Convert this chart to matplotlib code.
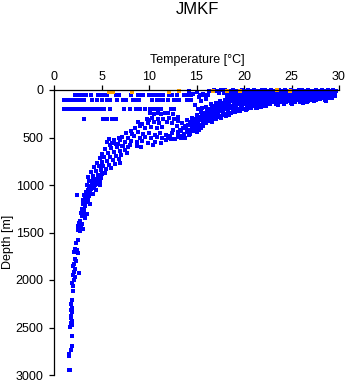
import matplotlib
matplotlib.use("Agg")
import matplotlib.pyplot as plt

plt.rcParams['font.family'] = ['Liberation Sans', 'DejaVu Sans']

title = "JMKF"
xlabel = "Temperature [°C]"
ylabel = "Depth [m]"
xticks = [0, 5, 10, 15, 20, 25, 30]
yticks = [0, 500, 1000, 1500, 2000, 2500, 3000]

# (temperature, depth) pairs
surface = [
    (16.3, 8), (16.8, 3), (17.2, 10), (17.6, 5), (18.0, 2), (18.4, 9), (18.8, 4), (19.1, 11), (19.4, 6),
    (19.8, 2), (20.1, 8), (20.4, 4), (20.7, 10), (21.0, 3), (21.3, 7), (21.6, 12), (21.9, 5), (22.2, 2),
    (22.5, 9), (22.8, 4), (23.1, 11), (23.4, 6), (23.7, 2), (24.0, 8), (24.3, 4), (24.6, 10), (24.9, 3),
    (25.2, 7), (25.5, 12), (25.8, 5), (26.1, 2), (26.4, 9), (26.7, 4), (27.0, 11), (27.3, 6), (27.6, 2),
    (27.9, 8), (28.2, 4), (28.5, 10), (28.8, 3), (29.1, 7), (29.4, 5), (29.7, 9),
    (17.4, 30), (17.9, 36), (18.3, 28), (18.7, 34), (19.0, 30), (19.3, 38), (19.7, 27), (20.0, 33),
    (20.3, 37), (20.6, 29), (20.9, 35), (21.2, 31), (21.5, 26), (21.8, 36), (22.1, 32), (22.4, 28),
    (22.7, 38), (23.0, 33), (23.3, 29), (23.6, 35), (23.9, 31), (24.2, 37), (24.5, 27), (24.8, 33),
    (25.1, 30), (25.4, 36), (25.7, 28), (26.0, 34), (26.3, 31), (26.6, 37), (26.9, 29), (27.2, 33),
    (27.5, 27), (27.8, 36), (28.1, 31), (28.4, 35), (28.7, 28), (29.0, 33), (29.3, 30), (29.6, 36),
    (18.2, 60), (18.6, 54), (19.0, 62), (19.3, 56), (19.6, 60), (19.9, 52), (20.2, 64), (20.5, 57),
    (20.8, 61), (21.1, 55), (21.4, 63), (21.7, 58), (22.0, 53), (22.3, 62), (22.6, 56), (22.9, 60),
    (23.2, 54), (23.5, 63), (23.8, 57), (24.1, 61), (24.4, 55), (24.7, 59), (25.0, 64), (25.3, 56),
    (25.6, 60), (25.9, 53), (26.2, 62), (26.5, 57), (26.8, 61), (27.1, 55), (27.4, 59), (27.7, 63),
    (28.0, 56), (28.3, 60), (28.6, 54), (28.9, 58), (29.2, 62), (29.5, 55),
    (18.9, 85), (19.3, 80), (19.7, 88), (20.0, 82), (20.3, 86), (20.6, 79), (20.9, 90), (21.2, 83),
    (21.5, 87), (21.8, 81), (22.1, 89), (22.4, 84), (22.7, 78), (23.0, 88), (23.3, 82), (23.6, 86),
    (23.9, 80), (24.2, 90), (24.5, 84), (24.8, 79), (25.1, 87), (25.4, 83), (25.7, 89), (26.0, 81),
    (26.3, 86), (26.6, 80), (26.9, 88), (27.2, 82), (27.5, 85), (27.8, 79), (28.1, 84), (28.4, 88),
    (28.7, 81), (29.0, 85),
    (19.6, 110), (20.0, 106), (20.4, 114), (20.8, 108), (21.1, 112), (21.4, 104), (21.7, 116),
    (22.0, 109), (22.3, 113), (22.6, 106), (22.9, 111), (23.2, 117), (23.5, 108), (23.8, 113),
    (24.1, 105), (24.4, 110), (24.7, 115), (25.0, 107), (25.3, 112), (25.6, 104), (25.9, 109),
    (26.3, 106), (26.7, 111), (27.1, 104), (27.6, 100), (28.0, 98), (28.5, 104),
    (20.3, 135), (20.7, 140), (21.1, 132), (21.5, 138), (21.9, 130), (22.3, 142), (22.7, 134),
    (23.1, 129), (23.5, 137), (23.9, 131), (24.4, 127), (24.9, 133), (25.4, 125), (25.9, 129),
    (26.6, 122), (27.4, 118),
    (21.0, 160), (21.5, 168), (21.9, 155), (22.3, 163), (22.7, 152), (23.4, 150), (24.2, 148),
    (25.0, 145), (21.3, 185), (21.7, 178), (22.0, 172), (23.6, 160), (26.2, 140), (28.6, 115),
    (29.3, 88), (29.6, 68),
    (14.2, 15), (14.6, 45), (15.0, 25), (15.3, 70), (15.7, 40), (16.0, 95), (14.4, 100), (15.5, 120),
    (16.2, 55), (14.8, 160), (15.2, 200), (15.6, 185),
]

thermocline = [
    (22.0, 150), (21.8, 175), (22.3, 165),
    (21.0, 120), (21.2, 145), (20.9, 170), (21.4, 190), (21.6, 160),
    (20.5, 100), (20.6, 135), (20.4, 160), (20.7, 185), (20.3, 205),
    (20.0, 70), (19.9, 120), (20.1, 145), (19.8, 170), (20.0, 195), (20.2, 215),
    (19.5, 60), (19.6, 95), (19.4, 125), (19.5, 150), (19.7, 180), (19.3, 205), (19.6, 225),
    (19.0, 75), (19.1, 105), (18.9, 135), (19.0, 160), (19.2, 185), (18.8, 210), (19.0, 235),
    (18.5, 85), (18.6, 115), (18.4, 140), (18.5, 165), (18.7, 190), (18.3, 215), (18.6, 240), (18.4, 260),
    (18.0, 100), (18.1, 125), (17.9, 150), (18.0, 175), (18.2, 200), (17.8, 225), (18.0, 250), (18.1, 270),
    (17.5, 115), (17.6, 145), (17.4, 170), (17.5, 195), (17.7, 220), (17.3, 245), (17.5, 270), (17.6, 290),
    (17.0, 135), (17.1, 165), (16.9, 190), (17.0, 215), (17.2, 240), (16.8, 265), (17.0, 290), (17.1, 310),
    (16.5, 150), (16.6, 185), (16.4, 215), (16.5, 240), (16.7, 265), (16.3, 290), (16.5, 315), (16.6, 335),
    (16.0, 175), (16.1, 215), (15.9, 245), (16.0, 270), (16.2, 300), (15.8, 325), (16.0, 350),
    (15.5, 230), (15.6, 260), (15.4, 290), (15.5, 320), (15.7, 345), (15.3, 370), (15.5, 395),
    (15.0, 265), (15.1, 300), (14.9, 330), (15.0, 360), (15.2, 385), (14.8, 415), (15.0, 440),
    (14.5, 295), (14.6, 335), (14.4, 365), (14.5, 400), (14.7, 430), (14.3, 460),
    (14.0, 320), (14.1, 365), (13.9, 405), (14.0, 440), (14.2, 470), (13.8, 500),
    (13.5, 350), (13.6, 395), (13.4, 435), (13.5, 480),
    (13.0, 285), (13.1, 330), (12.9, 380), (13.0, 440), (13.2, 490),
    (12.5, 255), (12.6, 300), (12.4, 350), (12.5, 420), (12.3, 520),
    (12.0, 240), (12.1, 290), (11.9, 340), (12.2, 480), (11.8, 530),
    # in-between observations
    (21.2, 100), (20.8, 150), (20.2, 120), (20.3, 180), (19.8, 80), (19.7, 140), (19.2, 95),
    (19.3, 150), (19.2, 225), (18.7, 120), (18.8, 175), (18.3, 100), (18.2, 160), (18.3, 240),
    (17.8, 135), (17.7, 185), (17.8, 260), (17.2, 150), (17.3, 205), (17.2, 280), (16.7, 170),
    (16.8, 225), (16.7, 300), (16.2, 195), (16.3, 255), (16.3, 325), (15.7, 245), (15.8, 285),
    (15.7, 380), (15.3, 280), (15.2, 340), (15.3, 420), (14.8, 310), (14.8, 375), (14.3, 340),
    (14.3, 420), (13.8, 380), (13.3, 420), (13.7, 460),
]

mid = [
    (10.1, 240), (10.5, 250), (10.9, 245), (11.3, 255), (11.7, 245), (10.3, 290), (10.9, 300),
    (11.5, 310), (10.0, 320), (9.8, 300),
    (8.8, 340), (9.3, 355), (9.9, 345), (10.5, 335), (11.1, 350), (8.1, 430), (8.5, 395), (9.0, 380),
    (9.6, 395), (10.2, 385), (10.8, 400), (11.4, 390),
    (7.6, 455), (8.2, 465), (8.8, 445), (9.4, 460), (10.0, 450), (10.6, 470), (11.2, 455), (11.8, 470),
    (12.4, 455), (13.0, 470),
    (7.2, 490), (7.8, 500), (8.4, 485), (9.0, 500), (9.6, 490), (10.2, 505), (10.8, 495), (11.4, 510),
    (12.0, 500), (12.7, 515), (13.4, 505),
    (6.9, 530), (7.5, 545), (8.1, 535), (8.7, 550), (9.3, 540), (9.9, 555), (10.6, 545), (11.3, 560),
    (6.7, 570), (7.3, 585), (8.0, 575), (8.7, 590), (9.2, 600), (10.4, 580),
    (5.8, 515), (6.3, 525), (6.8, 505), (5.6, 545), (6.1, 555), (5.9, 580), (6.5, 565),
]

intermediate = [
    (7.8, 600), (7.2, 590), (6.6, 605), (6.0, 615), (5.4, 625), (7.5, 630), (6.9, 640), (6.3, 650),
    (5.7, 660), (5.1, 670), (7.7, 665), (7.1, 680), (6.5, 690), (5.9, 700), (5.3, 710), (4.8, 720),
    (6.8, 725), (6.2, 735), (5.6, 745), (5.0, 755), (4.5, 765), (6.9, 770), (6.4, 780), (5.8, 790),
    (5.2, 800), (4.7, 805), (4.2, 815), (6.0, 825), (5.5, 835), (4.9, 845), (4.4, 855), (3.9, 865),
    (5.4, 875), (5.0, 885), (4.6, 895), (4.1, 905), (3.6, 915), (4.9, 925), (4.5, 935), (4.1, 945),
    (3.7, 955), (4.8, 965), (4.4, 975), (4.0, 985), (3.5, 995),
]

lower = [
    (4.6, 990), (4.3, 1000), (4.0, 1005), (3.7, 1010), (4.8, 1000), (4.2, 1030), (3.9, 1040),
    (3.6, 1050), (4.4, 1050), (3.4, 1070), (3.8, 1080), (4.1, 1090), (3.5, 1100), (3.2, 1110),
    (2.4, 1110), (3.7, 1120), (3.3, 1140), (3.0, 1160), (3.6, 1160), (3.4, 1180), (3.1, 1200),
    (3.8, 1200), (3.3, 1220), (2.9, 1250), (3.2, 1260), (2.8, 1290), (3.0, 1300), (3.5, 1300),
    (3.3, 1320), (2.9, 1330), (3.3, 1350), (2.7, 1380), (2.6, 1400), (2.9, 1410), (2.5, 1430),
    (2.8, 1440), (2.6, 1460), (3.0, 1460), (2.7, 1480), (2.5, 1470),
]

deep = [
    (2.5, 1580), (2.3, 1610), (2.2, 1670), (2.4, 1680), (2.1, 1700), (2.5, 1720), (2.2, 1780),
    (2.3, 1800), (2.1, 1830), (2.0, 1850), (2.2, 1880), (2.1, 1920), (2.6, 1930), (2.0, 1950),
    (2.2, 1970), (2.1, 2000), (1.9, 2030), (2.0, 2060), (2.0, 2120), (1.9, 2210), (1.8, 2250),
    (1.9, 2290), (1.8, 2320), (1.9, 2340), (1.8, 2380), (1.75, 2400), (1.9, 2430), (1.8, 2450),
    (1.9, 2470), (1.7, 2490), (1.85, 2590), (1.85, 2690), (1.75, 2740), (1.6, 2780), (1.55, 2800),
    (1.6, 2950), (1.7, 2950),
]

# discrete standard-level observations
level_50_temps = [2.2, 2.5, 2.8, 3.1, 3.4, 3.9, 4.6, 5.0, 5.3, 5.6, 6.5, 6.8, 8.1, 8.8, 9.1, 9.4,
                  10.0, 10.3, 10.6, 10.9, 11.2, 11.5, 12.1, 12.4, 12.9, 13.7, 14.0, 14.4, 15.4, 15.8, 16.2]
level_100_temps = [1.1, 1.4, 1.7, 2.0, 2.3, 2.6, 2.9, 3.2, 4.0, 4.5, 5.1, 5.6, 5.9, 6.6, 7.3, 7.6,
                   8.3, 8.6, 8.9, 10.3, 10.8, 11.1, 11.5, 12.0, 12.6, 12.9, 13.2, 14.0, 14.4]
level_200_temps = [1.1, 1.4, 1.8, 2.1, 2.4, 2.7, 3.0, 3.3, 3.6, 3.9, 4.2, 4.5, 4.8, 5.0, 5.3, 5.9,
                   7.4, 8.0, 8.6, 9.1, 9.6, 10.1, 10.4, 10.7, 11.0, 11.3, 12.3, 12.6]
level_300_temps = [3.2, 5.2, 5.6, 6.1, 6.5]

orange_temp = [5.8, 6.2, 8.2, 12.1, 13.2, 16.7, 18.2, 19.6, 23.5, 24.8]
orange_depth = [25, 25, 25, 25, 12, 15, 15, 12, 3, 10]

blue_t, blue_d = [], []
for grp in (surface, thermocline, mid, intermediate, lower, deep):
    for t, d in grp:
        blue_t.append(t)
        blue_d.append(d)
for lvl, temps in ((50, level_50_temps), (100, level_100_temps),
                   (200, level_200_temps), (300, level_300_temps)):
    for t in temps:
        blue_t.append(t)
        blue_d.append(lvl)

W, H = 348, 384
fig = plt.figure(figsize=(W / 100, H / 100), dpi=100)
ax = fig.add_axes([54 / W, 1 - 375 / H, (339 - 54) / W, (375 - 90) / H])

ms = 2.2
ax.plot(blue_t, blue_d, 's', color='#0000FF', markersize=ms, markeredgewidth=0,
        clip_on=False, antialiased=False)
ax.plot(orange_temp, orange_depth, 's', color='#FFA500', markersize=ms, markeredgewidth=0,
        clip_on=False, antialiased=False)

ax.set_xlim(0, 30)
ax.set_ylim(3000, 0)
ax.set_xticks(xticks)
ax.set_yticks(yticks)
ax.xaxis.tick_top()
for s in ('right', 'bottom'):
    ax.spines[s].set_visible(False)
for s in ('left', 'top'):
    ax.spines[s].set_linewidth(0.9)
ax.tick_params(direction='out', length=3.5, width=0.9, labelsize=9)
ax.tick_params(axis='x', pad=1.2)
ax.tick_params(axis='y', pad=4)

fig.text(197 / W, 1 - 60 / H, xlabel, ha='center', va='center', fontsize=9)
fig.text(7.5 / W, 1 - 242 / H, ylabel, ha='center', va='center', rotation=90, fontsize=9)
fig.text(197 / W, 1 - 10 / H, title, ha='center', va='center', fontsize=12)

fig.savefig("out.png", dpi=100)
